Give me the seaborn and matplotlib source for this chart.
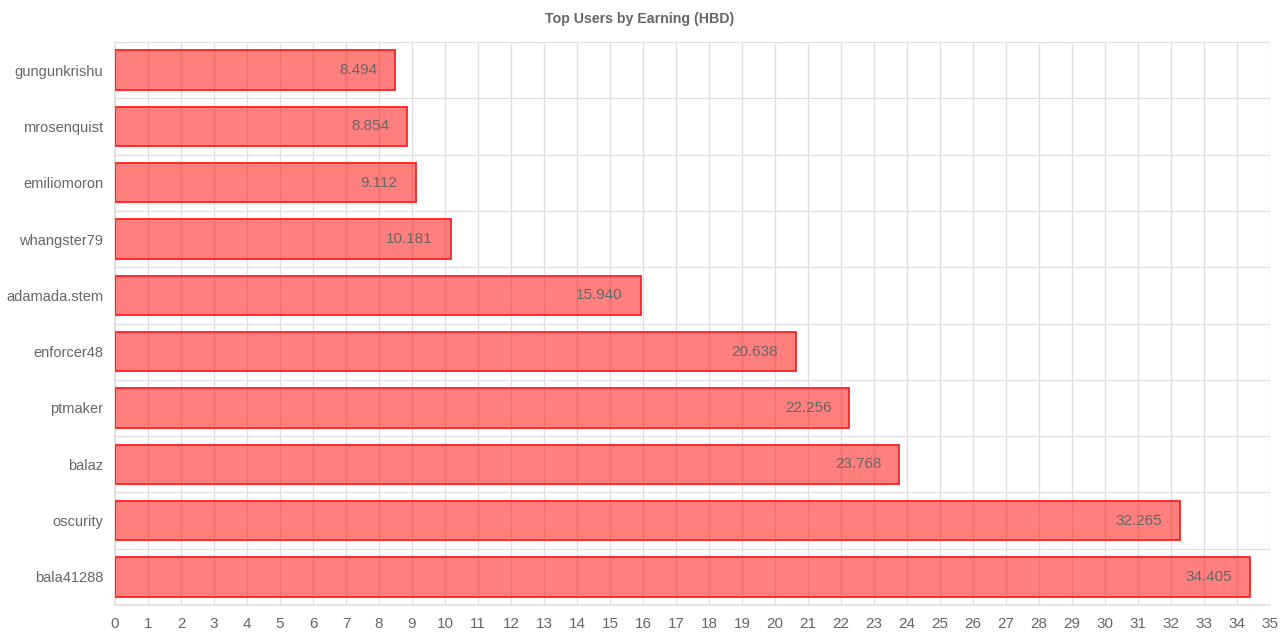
import matplotlib
matplotlib.use("Agg")
import matplotlib.pyplot as plt
import seaborn as sns
import pandas as pd
import numpy as np

users = ["gungunkrishu", "mrosenquist", "emiliomoron", "whangster79", "adamada.stem",
         "enforcer48", "ptmaker", "balaz", "oscurity", "bala41288"]
earnings = [8.494, 8.854, 9.112, 10.181, 15.940, 20.638, 22.256, 23.768, 32.265, 34.405]
labels = ["8.494", "8.854", "9.112", "10.181", "15.940", "20.638", "22.256", "23.768", "32.265", "34.405"]

df = pd.DataFrame({"user": users, "hbd": earnings})

sns.set_theme(style="white")
plt.rcParams['font.family'] = ['Liberation Sans', 'DejaVu Sans']

fig = plt.figure(figsize=(12.8, 6.39), dpi=100)
ax = fig.add_axes([115/1280, 1-605/639, (1270-115)/1280, (605-42)/639])

sns.barplot(data=df, x="hbd", y="user", orient="h", ax=ax, width=0.7,
            color=(1, 0, 0, 0.5), edgecolor="#ff2020", linewidth=1.3, zorder=3)
for p in ax.patches:
    p.set_facecolor((1, 0, 0, 0.5))

ax.set_xlim(0, 35)
ax.set_ylim(len(users) - 0.5, -0.5)
ax.set_xticks(range(0, 36))
ax.set_yticks(range(len(users)))
ax.set_yticks(np.arange(-0.5, len(users), 1.0), minor=True)
ax.grid(False)
ax.grid(axis="x", which="major", color="#e0e0e0", linewidth=1, zorder=4)
ax.grid(axis="y", which="minor", color="#e0e0e0", linewidth=1, zorder=4)
ax.set_axisbelow(False)
ax.tick_params(axis="x", which="major", length=5, color="#e0e0e0", labelsize=11, labelcolor="#666666", pad=4)
ax.tick_params(axis="y", which="major", length=0, labelsize=10.5, labelcolor="#666666", pad=8.5)
ax.tick_params(axis="y", which="minor", length=12, color="#e0e0e0")
for s in ["top", "right"]:
    ax.spines[s].set_visible(False)
ax.spines["left"].set_color("#e0e0e0")
ax.spines["bottom"].set_color("#e0e0e0")
ax.set_xlabel("")
ax.set_ylabel("")

for i, (v, t) in enumerate(zip(earnings, labels)):
    ax.annotate(t, xy=(v, i), xytext=(-13, 0), textcoords="offset points",
                ha="right", va="center", fontsize=11, color="#666666", zorder=5)

fig.text(640/1280, 1-19/639, "Top Users by Earning (HBD)", ha="center", va="center",
         fontsize=10.2, fontweight="bold", color="#666666")

fig.savefig("out.png", dpi=100)
